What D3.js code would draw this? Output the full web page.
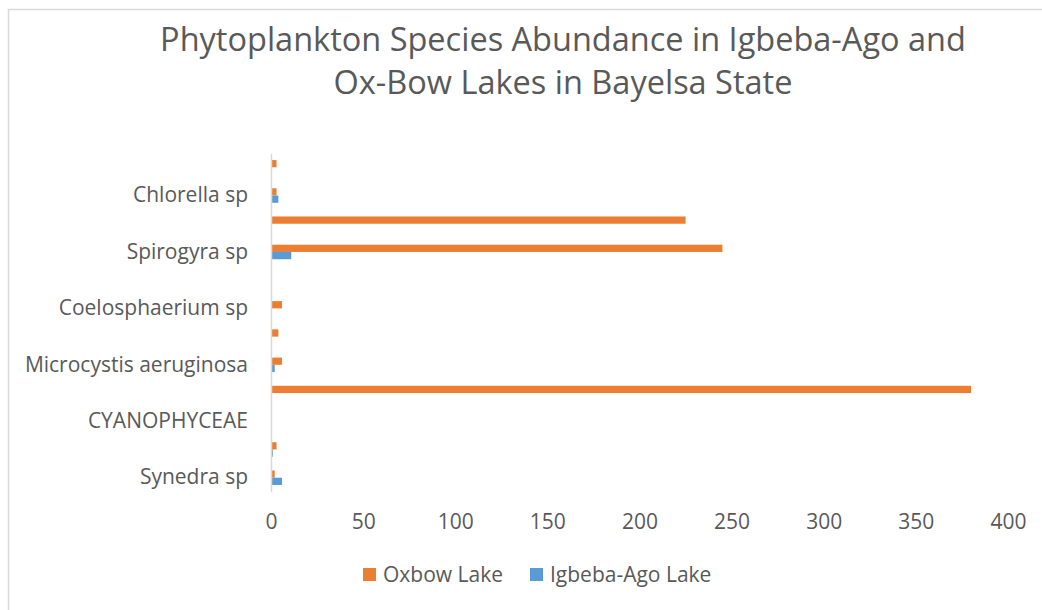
<!DOCTYPE html>
<html>
<head>
<meta charset="utf-8">
<script src="https://cdn.jsdelivr.net/npm/d3@7"></script>
<style>
  html, body { margin: 0; padding: 0; background: #fff; }
  svg { display: block; }
  text { font-family: "Open Sans", Lato, "Liberation Sans", sans-serif; fill: #595959; }
</style>
</head>
<body>
<svg id="chart" width="1042" height="610"></svg>
<script>
// Categories from bottom to top (only every other label is displayed, as in the original)
const categories = [
  "Synedra sp", "Navicula sp", "CYANOPHYCEAE", "Anabaena sp",
  "Microcystis aeruginosa", "Oscillatoria sp", "Coelosphaerium sp", "CHLOROPHYCEAE",
  "Spirogyra sp", "Closterium sp", "Chlorella sp", "Ulothrix sp"
];
const oxbowLake     = [2, 3, 0, 380, 6, 4, 6, 0, 245, 225, 3, 3];
const igbebaAgoLake = [6, 1, 0, 0, 2, 0, 0, 0, 11, 0, 4, 0];
const seriesNames = ["Oxbow Lake", "Igbeba-Ago Lake"];
const seriesColors = ["#ED7D31", "#5B9BD5"];
const xTicks = [0, 50, 100, 150, 200, 250, 300, 350, 400];
const titleLines = ["Phytoplankton Species Abundance in Igbeba-Ago and", "Ox-Bow Lakes in Bayelsa State"];

const svg = d3.select("#chart");

// chart border (partially cropped like the original)
svg.append("rect")
  .attr("x", 8.5).attr("y", 9.5)
  .attr("width", 1100).attr("height", 700)
  .attr("fill", "none").attr("stroke", "#D9D9D9").attr("stroke-width", 1.5);

// title
svg.append("g").selectAll("text").data(titleLines).join("text")
  .attr("x", 563).attr("y", (d, i) => 51 + i * 43)
  .attr("text-anchor", "middle")
  .style("font-size", "32.5px")
  .text(d => d);

const x = d3.scaleLinear().domain([0, 400]).range([271, 1008]);
const y = d3.scaleBand().domain(categories).range([491.8, 153.2]).paddingInner(0.485).paddingOuter(0.2425);
const ySub = d3.scaleBand().domain(seriesNames).range([0, y.bandwidth()]);

const rows = categories.map((c, i) => ({ cat: c, vals: [oxbowLake[i], igbebaAgoLake[i]] }));

const gRows = svg.append("g").selectAll("g").data(rows).join("g")
  .attr("transform", d => `translate(0,${y(d.cat)})`);
gRows.selectAll("rect").data(d => d.vals.map((v, k) => ({ v, k })))
  .join("rect")
  .attr("x", x(0))
  .attr("y", d => ySub(seriesNames[d.k]))
  .attr("width", d => x(d.v) - x(0))
  .attr("height", ySub.bandwidth())
  .attr("fill", d => seriesColors[d.k]);

// y axis
const yAxis = d3.axisLeft(y).tickSize(0).tickPadding(23)
  .tickFormat((d, i) => (categories.indexOf(d) % 2 === 0 ? d : ""));
const gy = svg.append("g").attr("transform", `translate(${x(0)},0)`).call(yAxis);
gy.select(".domain").attr("stroke", "#D9D9D9").attr("stroke-width", 1.5);
gy.selectAll("text").style("font-size", "21px").attr("fill", "#595959");

// x axis (labels only)
const xAxis = d3.axisBottom(x).tickValues(xTicks).tickSize(0).tickPadding(0);
const gx = svg.append("g").attr("transform", `translate(0,${514})`).call(xAxis);
gx.select(".domain").remove();
gx.selectAll("text").style("font-size", "21px").attr("fill", "#595959").attr("dy", "0.71em");

// legend
const legendX = [363, 530];
const lg = svg.append("g").selectAll("g").data(seriesNames).join("g")
  .attr("transform", (d, i) => `translate(${legendX[i]},568)`);
lg.append("rect").attr("width", 13).attr("height", 13).attr("fill", (d, i) => seriesColors[i]);
lg.append("text").attr("x", 20).attr("y", 7).attr("dy", "0.35em")
  .style("font-size", "21px").text(d => d);
</script>
</body>
</html>
